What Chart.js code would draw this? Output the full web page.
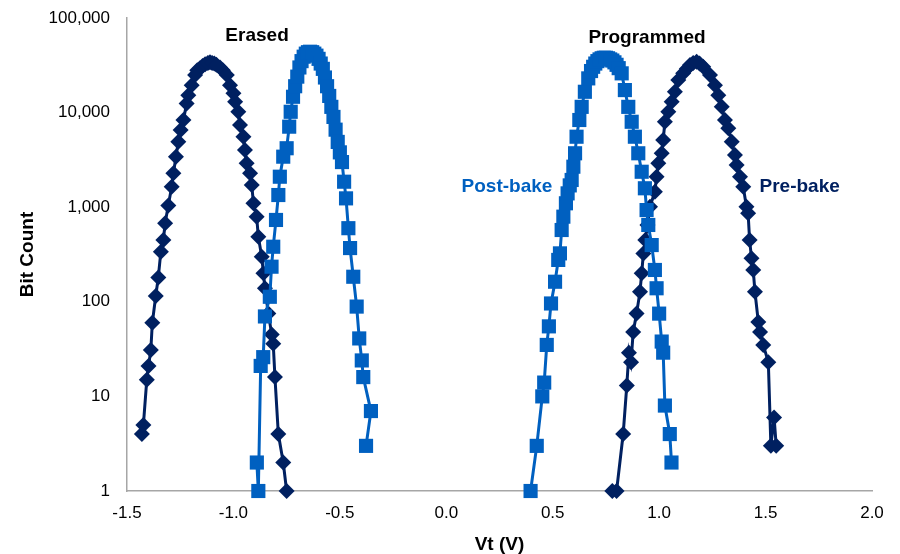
<!DOCTYPE html>
<html lang="en">
<head>
    <meta charset="UTF-8">
    <title>Vt Distribution</title>
    <script src="https://cdn.jsdelivr.net/npm/chart.js"></script>
    <style>
        body { margin: 0; background: #fff; }
    </style>
</head>
<body>
    <canvas id="myChart" width="900" height="554"></canvas>
    <script>
        // data (Vt in volts, bit counts)
        const erasedPostX = [-0.89, -0.883, -0.872, -0.86, -0.852, -0.829, -0.821, -0.813, -0.80, -0.789, -0.782, -0.766, -0.75, -0.738, -0.731, -0.72, -0.71, -0.70, -0.69, -0.68, -0.67, -0.66, -0.65, -0.64, -0.63, -0.62, -0.61, -0.60, -0.59, -0.58, -0.57, -0.56, -0.55, -0.54, -0.53, -0.52, -0.51, -0.50, -0.49, -0.48, -0.471, -0.46, -0.452, -0.437, -0.421, -0.409, -0.397, -0.39, -0.354, -0.377];
        const erasedPostY = [2, 1, 21, 26, 70, 113, 235, 382, 733, 1345, 2100, 3420, 4200, 7100, 10200, 14700, 19000, 24000, 30000, 35000, 39000, 42000, 43500, 44000, 43500, 42000, 40000, 37000, 33000, 29000, 23500, 19000, 15000, 11500, 9000, 6600, 4900, 3800, 3000, 1860, 1240, 600, 370, 184, 89, 41, 24, 16, 7, 3];

        const progPostX = [0.396, 0.425, 0.451, 0.46, 0.472, 0.482, 0.492, 0.511, 0.526, 0.534, 0.542, 0.55, 0.562, 0.57, 0.58, 0.589, 0.597, 0.605, 0.612, 0.625, 0.636, 0.651, 0.667, 0.68, 0.69, 0.70, 0.71, 0.72, 0.73, 0.74, 0.75, 0.76, 0.77, 0.78, 0.79, 0.80, 0.81, 0.824, 0.839, 0.855, 0.871, 0.886, 0.902, 0.918, 0.933, 0.941, 0.949, 0.965, 0.98, 0.988, 1.0, 1.012, 1.019, 1.027, 1.05, 1.058];
        const progPostY = [1, 3, 10, 14, 35, 55, 96, 163, 277, 325, 574, 794, 1100, 1400, 1700, 1940, 2680, 3715, 5560, 8350, 11500, 16600, 23000, 27500, 30500, 33000, 35000, 36500, 37500, 38000, 38000, 37500, 36500, 35500, 34000, 32000, 29500, 26000, 17300, 11500, 8000, 5560, 3715, 2370, 1585, 933, 649, 398, 217, 139, 75, 38, 29, 8, 4, 2];

        const erasedPreX = [-1.43, -1.423, -1.407, -1.399, -1.388, -1.381, -1.365, -1.353, -1.341, -1.329, -1.321, -1.306, -1.29, -1.282, -1.27, -1.259, -1.248, -1.235, -1.22, -1.212, -1.196, -1.18, -1.17, -1.157, -1.145, -1.133, -1.12, -1.11, -1.10, -1.09, -1.08, -1.063, -1.05, -1.031, -1.016, -1.0, -0.992, -0.977, -0.969, -0.953, -0.946, -0.938, -0.922, -0.914, -0.906, -0.891, -0.883, -0.867, -0.859, -0.852, -0.836, -0.82, -0.813, -0.805, -0.789, -0.766, -0.75];
        const erasedPreY = [4, 5, 15, 21, 31, 60, 115, 181, 339, 450, 676, 1040, 1650, 2280, 3420, 4920, 6550, 8330, 12500, 15300, 19500, 25000, 28000, 29500, 31000, 32500, 33500, 34000, 33500, 33000, 32000, 30000, 28000, 25000, 19500, 16000, 13000, 10200, 7400, 5560, 4030, 2910, 2280, 1720, 1100, 794, 488, 300, 200, 139, 75, 45, 36, 16, 4, 2, 1];

        const progPreX = [0.78, 0.79, 0.80, 0.831, 0.848, 0.858, 0.868, 0.878, 0.894, 0.91, 0.918, 0.926, 0.935, 0.945, 0.957, 0.98, 0.988, 0.996, 1.012, 1.019, 1.027, 1.043, 1.059, 1.074, 1.09, 1.113, 1.13, 1.145, 1.16, 1.176, 1.19, 1.207, 1.239, 1.262, 1.278, 1.294, 1.309, 1.325, 1.341, 1.356, 1.364, 1.38, 1.395, 1.41, 1.418, 1.425, 1.434, 1.442, 1.45, 1.466, 1.474, 1.489, 1.513, 1.525, 1.54, 1.55];
        const progPreY = [1, null, 1, 4, 13, 29, 23, 48, 75, 128, 200, 325, 450, 650, 1012, 1460, 2100, 2910, 3715, 5130, 8000, 10200, 13000, 16600, 22100, 26000, 29000, 31800, 33500, 34500, 33000, 30500, 25000, 19500, 15300, 11500, 8350, 6820, 4920, 3560, 2790, 2100, 1650, 1012, 862, 450, 288, 217, 128, 61, 48, 35, 23, 3, 6, 3];

        const xTicks = [-1.5, -1.0, -0.5, 0.0, 0.5, 1.0, 1.5, 2.0];
        const yTicks = [1, 10, 100, 1000, 10000, 100000];

        const navy = '#002060';
        const blue = '#0060c0';

        function toPoints(xs, ys) {
            return xs.map((x, i) => ({ x: x, y: ys[i] }));
        }

        // series labels written on the plot, placed in data units
        const seriesLabels = {
            id: 'seriesLabels',
            afterDatasetsDraw(chart) {
                const ctx = chart.ctx;
                const xs = chart.scales.x;
                const ys = chart.scales.y;
                const items = [
                    { text: 'Erased', x: -0.889, y: 64500, color: '#000' },
                    { text: 'Programmed', x: 0.943, y: 61500, color: '#000' },
                    { text: 'Post-bake', x: 0.285, y: 1635, color: blue },
                    { text: 'Pre-bake', x: 1.66, y: 1635, color: navy }
                ];
                ctx.save();
                ctx.font = 'bold 19px "Liberation Sans", Arial, sans-serif';
                ctx.textAlign = 'center';
                ctx.textBaseline = 'middle';
                items.forEach(it => {
                    ctx.fillStyle = it.color;
                    ctx.fillText(it.text, xs.getPixelForValue(it.x), ys.getPixelForValue(it.y));
                });
                ctx.restore();
            }
        };

        Chart.defaults.font.family = '"Liberation Sans", Arial, sans-serif';
        Chart.defaults.color = '#000';

        const ctx = document.getElementById('myChart').getContext('2d');
        const myChart = new Chart(ctx, {
            type: 'scatter',
            data: {
                datasets: [
                    {
                        label: 'Erased post-bake',
                        data: toPoints(erasedPostX, erasedPostY),
                        borderColor: blue,
                        backgroundColor: blue,
                        pointStyle: 'rect',
                        pointRadius: 10,
                        pointBorderWidth: 0
                    },
                    {
                        label: 'Programmed post-bake',
                        data: toPoints(progPostX, progPostY),
                        borderColor: blue,
                        backgroundColor: blue,
                        pointStyle: 'rect',
                        pointRadius: 10,
                        pointBorderWidth: 0
                    },
                    {
                        label: 'Erased pre-bake',
                        data: toPoints(erasedPreX, erasedPreY),
                        borderColor: navy,
                        backgroundColor: navy,
                        pointStyle: 'rectRot',
                        pointRadius: 8,
                        pointBorderWidth: 0
                    },
                    {
                        label: 'Programmed pre-bake',
                        data: toPoints(progPreX, progPreY),
                        borderColor: navy,
                        backgroundColor: navy,
                        pointStyle: 'rectRot',
                        pointRadius: 8,
                        pointBorderWidth: 0
                    }
                ]
            },
            options: {
                responsive: false,
                animation: false,
                events: [],
                datasets: {
                    scatter: {
                        showLine: true,
                        borderWidth: 3,
                        spanGaps: false,
                        clip: false
                    }
                },
                layout: {
                    autoPadding: false,
                    padding: { top: 18, right: 28, bottom: 0, left: 0 }
                },
                plugins: {
                    legend: { display: false },
                    tooltip: { enabled: false }
                },
                scales: {
                    x: {
                        type: 'linear',
                        min: -1.5,
                        max: 2.0,
                        afterBuildTicks: scale => { scale.ticks = xTicks.map(v => ({ value: v })); },
                        afterFit: scale => { scale.height = 63; },
                        grid: { display: false, drawTicks: false },
                        border: { display: true, color: '#a6a6a6', width: 1.5 },
                        ticks: {
                            padding: 12,
                            font: { size: 17 },
                            callback: v => Number(v).toFixed(1)
                        },
                        title: {
                            display: true,
                            text: 'Vt (V)',
                            font: { size: 19, weight: 'bold', lineHeight: 1 },
                            padding: { top: 0, bottom: 0 }
                        }
                    },
                    y: {
                        type: 'logarithmic',
                        min: 1,
                        max: 100000,
                        afterBuildTicks: scale => { scale.ticks = yTicks.map(v => ({ value: v })); },
                        afterFit: scale => {
                            scale.width = 127;
                            // tick padding would otherwise push the plot top down
                            scale.paddingTop = 10;
                            scale.paddingBottom = 10;
                        },
                        grid: { display: false, drawTicks: false },
                        border: { display: true, color: '#a6a6a6', width: 1.5 },
                        ticks: {
                            padding: 17,
                            font: { size: 17 },
                            callback: v => Number(v).toLocaleString('en-US')
                        },
                        title: {
                            display: true,
                            text: 'Bit Count',
                            font: { size: 19, weight: 'bold', lineHeight: 1 },
                            padding: { top: 18, bottom: 0 }
                        }
                    }
                }
            },
            plugins: [seriesLabels]
        });
    </script>
</body>
</html>
